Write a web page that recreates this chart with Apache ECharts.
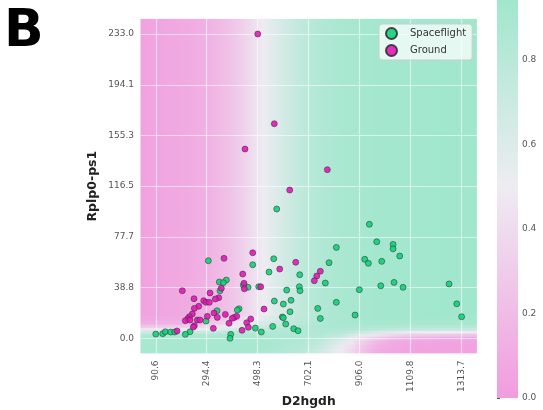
<!DOCTYPE html>
<html><head><meta charset="utf-8">
<script src="https://cdn.jsdelivr.net/npm/echarts@6/dist/echarts.min.js"></script>
<style>html,body{margin:0;padding:0;background:#fff}#c{width:543px;height:410px}</style>
</head><body><div id="c"></div>
<script>
// ---- tick labels ----
const xTicks = [90.6, 294.4, 498.3, 702.1, 906.0, 1109.8, 1313.7];
const yTicks = [0.0, 38.8, 77.7, 116.5, 155.3, 194.1, 233.0];
const cbTicks = [0.0, 0.2, 0.4, 0.6, 0.8];

// ---- scatter series ----
const spaceflightX = [574.3,812.7,300.7,562.3,478.3,783.5,543.5,666.3,372.7,344.7,360.7,768.7,440.7,459.5,502.3,664.7,667.5,614.3,347.5,564.7,631.5,600.7,812.7,423.5,416.7,738.3,627.5,335.5,596.7,600.7,748.7,291.5,610.3,558.3,488.7,642.3,659.5,512.7,227.5,90.6,118.3,128.7,150.3,166.3,208.7,390.3,387.5,944.7,974.3,1039.5,1039.5,1066.3,926.3,940.7,994.3,1043.5,990.3,1079.5,1263.5,904.7,1294.3,887.5,1313.7];
const spaceflightY = [99.0,69.6,59.4,60.9,56.3,57.9,50.7,48.7,44.6,43.1,42.6,42.3,40.6,39.0,39.5,39.5,36.4,36.9,36.4,28.5,29.1,26.2,27.5,22.6,21.6,22.9,20.3,21.1,16.3,15.7,15.2,13.2,10.9,9.1,7.8,7.3,5.8,4.8,5.0,3.2,3.5,5.0,4.8,4.8,3.0,3.0,0.0,87.3,73.9,71.9,68.5,63.0,60.5,57.4,58.9,42.8,40.2,39.0,41.6,37.2,26.4,17.8,16.5];
const groundX = [498.3,564.6,447.5,776.7,626.3,478.3,363.5,650.3,586.3,438.3,196.7,352.7,443.5,444.7,510.3,748.7,734.3,724.7,307.5,243.5,342.3,328.7,282.3,291.5,304.7,262.3,244.7,523.5,323.5,236.7,368.7,224.7,218.3,296.7,336.7,404.7,414.3,396.7,208.7,227.5,256.7,267.5,470.3,383.5,244.7,240.7,454.3,460.7,320.7,435.5,175.5];
const groundY = [233.0,164.3,144.9,129.1,113.5,65.5,61.2,58.2,53.0,49.2,36.4,38.3,42.1,37.9,39.5,51.3,47.7,44.1,34.7,30.3,31.1,30.1,28.8,27.5,27.5,24.5,22.9,22.4,19.3,18.6,18.3,16.5,14.9,16.8,16.0,16.0,16.8,15.3,13.5,14.0,14.0,14.0,14.8,11.5,9.6,8.6,11.9,8.4,7.6,6.1,5.6];

// ---- background probability field ----
const fieldX = [30, 190, 295, 390, 450, 490, 520, 555, 600, 670, 750, 830, 870, 910, 970, 1030, 1110, 1230, 1375];
const bandEdges = [244.65, 17.0, 13.2, 10.2, 7.9, 5.6, 3.3, 1.0, -2.1, -5.2, -8.3, -11.65];
const band0  = [0.04,0.08,0.13,0.24,0.35,0.44,0.50,0.57,0.65,0.76,0.84,0.89,0.90,0.91,0.92,0.93,0.93,0.94,0.94];
const band1  = [0.07,0.10,0.17,0.30,0.42,0.50,0.56,0.62,0.69,0.78,0.85,0.89,0.90,0.91,0.92,0.92,0.92,0.92,0.92];
const band2  = [0.12,0.15,0.24,0.38,0.50,0.58,0.63,0.68,0.74,0.80,0.86,0.89,0.90,0.90,0.90,0.90,0.90,0.90,0.90];
const band3  = [0.25,0.28,0.36,0.50,0.60,0.66,0.70,0.74,0.78,0.83,0.87,0.88,0.88,0.87,0.86,0.85,0.84,0.84,0.84];
const band4  = [0.45,0.47,0.52,0.62,0.70,0.74,0.77,0.80,0.82,0.85,0.86,0.85,0.84,0.82,0.80,0.78,0.76,0.75,0.74];
const band5  = [0.70,0.71,0.73,0.77,0.80,0.82,0.83,0.84,0.85,0.86,0.85,0.82,0.78,0.72,0.64,0.58,0.53,0.50,0.48];
const band6  = [0.85,0.86,0.87,0.87,0.87,0.87,0.87,0.87,0.87,0.86,0.83,0.75,0.66,0.56,0.45,0.37,0.30,0.26,0.24];
const band7  = [0.89,0.89,0.89,0.89,0.89,0.89,0.88,0.88,0.87,0.85,0.80,0.66,0.55,0.42,0.28,0.18,0.12,0.10,0.09];
const band8  = [0.90,0.90,0.90,0.90,0.90,0.89,0.89,0.88,0.87,0.84,0.76,0.58,0.47,0.33,0.18,0.10,0.07,0.05,0.05];
const band9  = [0.90,0.90,0.90,0.90,0.90,0.89,0.89,0.88,0.86,0.83,0.72,0.54,0.43,0.28,0.14,0.08,0.05,0.04,0.04];
const band10 = [0.90,0.90,0.90,0.90,0.90,0.89,0.88,0.87,0.85,0.81,0.68,0.50,0.39,0.25,0.12,0.07,0.05,0.04,0.04];
const fieldP = [band0, band1, band2, band3, band4, band5, band6, band7, band8, band9, band10];
const cbMax = 0.942;

const X_MIN = 29.45, X_MAX = 1374.86, Y_MIN = -11.65, Y_MAX = 244.65;
const FONT = 'DejaVu Sans';

function ramp(p) {
  const a = [[0, [241,156,222]], [0.5, [238,236,242]], [1, [150,230,200]]];
  p = Math.max(0, Math.min(1, p));
  let i = p <= 0.5 ? 0 : 1;
  const t = (p - a[i][0]) / (a[i+1][0] - a[i][0]);
  const c = a[i][1].map((v, k) => Math.round(v + (a[i+1][1][k] - v) * t));
  return 'rgb(' + c.join(',') + ')';
}

const chart = echarts.init(document.getElementById('c'), null, {renderer: 'canvas'});
chart.setOption({
  animation: false,
  graphic: [{
    type: 'text', left: 4, top: 6,
    style: {text: 'B', fontSize: 52, fontWeight: 'bold', fontFamily: FONT, fill: '#000'}
  }],
  grid: [
    {left: 140.5, top: 18.8, width: 336.4, height: 334.7, outerBoundsMode: 'none', containLabel: false},
    {left: 497, top: 0, width: 21, height: 398, outerBoundsMode: 'none', containLabel: false}
  ],
  legend: {
    data: ['Spaceflight', 'Ground'], orient: 'vertical', left: 379, top: 24,
    itemWidth: 27, itemHeight: 11, itemGap: 4, padding: [3, 6, 3, 6],
    backgroundColor: 'rgba(255,255,255,0.72)', borderColor: '#ccc', borderWidth: 1, borderRadius: 3,
    textStyle: {fontSize: 10, color: '#333', fontFamily: FONT}, icon: 'circle'
  },
  xAxis: [{
    type: 'value', gridIndex: 0, min: X_MIN, max: X_MAX,
    name: 'D2hgdh', nameLocation: 'middle', nameGap: 42.5, nameMoveOverlap: false,
    nameTextStyle: {fontWeight: 'bold', fontSize: 12.3, color: '#222', fontFamily: FONT},
    axisLine: {show: false},
    axisTick: {show: false, customValues: xTicks},
    axisLabel: {customValues: xTicks, rotate: 90, formatter: v => v.toFixed(1), fontSize: 9, color: '#555', margin: 7, fontFamily: FONT},
    splitLine: {show: true, lineStyle: {color: 'rgba(255,255,255,0.55)', width: 1.2}}
  }, {
    type: 'value', gridIndex: 1, min: 0, max: 1, show: false
  }],
  yAxis: [{
    type: 'value', gridIndex: 0, min: Y_MIN, max: Y_MAX,
    name: 'Rplp0-ps1', nameLocation: 'middle', nameGap: 41, nameMoveOverlap: false,
    nameTextStyle: {fontWeight: 'bold', fontSize: 12.5, color: '#222', fontFamily: FONT},
    axisLine: {show: false},
    axisTick: {show: false, customValues: yTicks},
    axisLabel: {customValues: yTicks, formatter: v => v.toFixed(1), fontSize: 9, color: '#555', margin: 6.5, fontFamily: FONT},
    splitLine: {show: true, lineStyle: {color: 'rgba(255,255,255,0.55)', width: 1.2}}
  }, {
    type: 'value', gridIndex: 1, min: 0, max: cbMax, position: 'right',
    axisLine: {show: false}, splitLine: {show: false},
    axisTick: {show: true, length: 3, lineStyle: {color: '#555'}, customValues: cbTicks},
    axisLabel: {customValues: cbTicks, formatter: v => v.toFixed(1), fontSize: 9, color: '#555', margin: 4, fontFamily: FONT}
  }],
  series: [{
    type: 'custom', name: 'field', xAxisIndex: 0, yAxisIndex: 0, z: -1, silent: true, clip: true,
    data: fieldP.map((_, i) => [X_MIN, bandEdges[i], i]),
    encode: {x: 0, y: 1},
    renderItem: function (params, api) {
      const i = api.value(2);
      const p1 = api.coord([X_MIN, bandEdges[i]]);
      const p2 = api.coord([X_MAX, bandEdges[i + 1]]);
      const P = fieldP[i];
      const stops = fieldX.map((x, k) => ({offset: Math.max(0, Math.min(1, (x - X_MIN) / (X_MAX - X_MIN))), color: ramp(P[k])}));
      return {type: 'rect', shape: {x: p1[0], y: p1[1] - 0.3, width: p2[0] - p1[0], height: p2[1] - p1[1] + 0.6},
        style: {fill: new echarts.graphic.LinearGradient(0, 0, 1, 0, stops)}};
    }
  }, {
    type: 'custom', name: 'colorbar', xAxisIndex: 1, yAxisIndex: 1, silent: true,
    data: [[0, 0]],
    renderItem: function (params, api) {
      const p1 = api.coord([0, cbMax]);
      const p2 = api.coord([1, 0]);
      return {type: 'rect', shape: {x: p1[0], y: p1[1], width: p2[0] - p1[0], height: p2[1] - p1[1]},
        style: {fill: new echarts.graphic.LinearGradient(0, 1, 0, 0, [
          {offset: 0, color: ramp(0)}, {offset: 0.5 / cbMax, color: ramp(0.5)}, {offset: 1, color: ramp(cbMax)}])}};
    }
  }, {
    type: 'scatter', name: 'Spaceflight', xAxisIndex: 0, yAxisIndex: 0,
    data: spaceflightX.map((x, i) => [x, spaceflightY[i]]),
    symbolSize: 6,
    itemStyle: {color: '#10d078', borderColor: '#333', borderWidth: 0.6, opacity: 0.9}
  }, {
    type: 'scatter', name: 'Ground', xAxisIndex: 0, yAxisIndex: 0,
    data: groundX.map((x, i) => [x, groundY[i]]),
    symbolSize: 6,
    itemStyle: {color: '#e416b8', borderColor: '#333', borderWidth: 0.6, opacity: 0.9}
  }]
});
</script></body></html>
